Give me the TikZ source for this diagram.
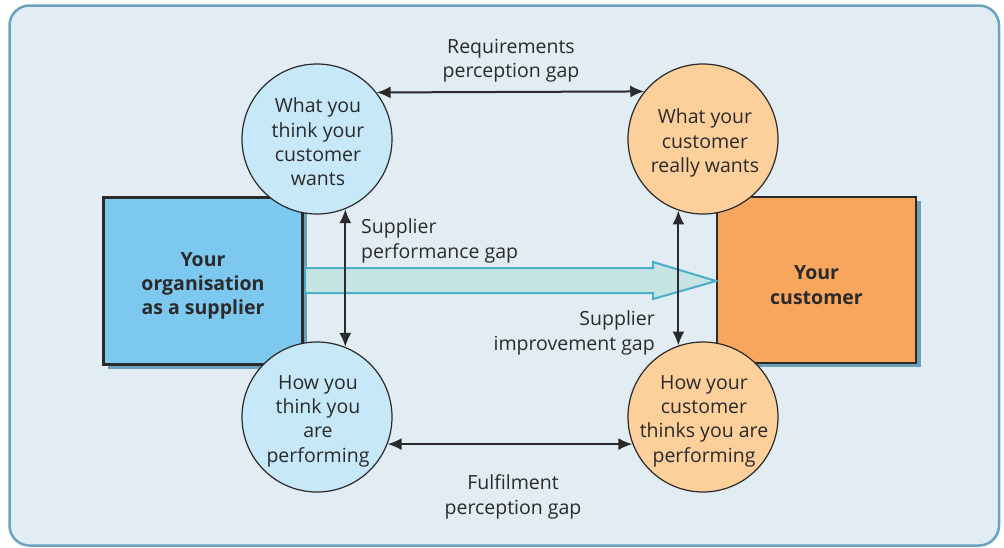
\documentclass[tikz,border=0pt]{standalone}
\usepackage{fontspec}
\setmainfont{Open Sans}
\usetikzlibrary{arrows.meta}
\definecolor{bgfill}{HTML}{E1ECF3}
\definecolor{bgline}{HTML}{6BA3BE}
\definecolor{boxblue}{HTML}{7DC8EF}
\definecolor{boxorange}{HTML}{F8A65E}
\definecolor{shadowc}{HTML}{6A9FB8}
\definecolor{circblue}{HTML}{C7E8F8}
\definecolor{circorange}{HTML}{FDCF9B}
\definecolor{arrfill}{HTML}{C6E4E4}
\definecolor{arrline}{HTML}{4BAEC8}
\definecolor{txt}{HTML}{2A2A2A}
\begin{document}
\begin{tikzpicture}[x=1pt,y=-1pt,
  txtstyle/.style={text=txt,font=\fontsize{19.5}{24.3}\selectfont,align=center,inner sep=0pt},
  boldtxt/.style={txtstyle,font=\fontsize{19.5}{24.3}\selectfont\bfseries},
  boxstyle/.style={draw=txt,line width=2.5pt,minimum width=199pt,inner sep=0pt},
  circstyle/.style={circle,draw=txt,line width=1.2pt,minimum size=150pt,inner sep=0pt},
  gap/.style={line width=2pt,draw=txt,{Latex[length=14pt,width=12pt]}-{Latex[length=14pt,width=12pt]}}
]
\useasboundingbox (0,0) rectangle (1004,547);
\draw[fill=bgfill,draw=bgline,line width=2.5pt,rounded corners=20pt] (9.5,5.5) rectangle (999,545.5);

% shadows
\fill[shadowc] (108,202) rectangle (307,369);
\fill[shadowc] (722,201) rectangle (921,367);
% boxes
\node[boxstyle,fill=boxblue,minimum height=167pt] (sup) at (203,281) {};
\node[boldtxt] (suptxt) at (203,286) {Your\\organisation\\as a supplier};
\node[boxstyle,fill=boxorange,minimum height=166pt] (cust) at (816.5,280) {};
\node[boldtxt] (custtxt) at (816.5,285) {Your\\customer};

% big arrow
\draw[fill=arrfill,draw=arrline,line width=2pt,line join=miter]
  (305,268) -- (653,268) -- (653,262) -- (716,281) -- (653,299) -- (653,293) -- (305,293) -- cycle;

% circles
\node[circstyle,fill=circblue] (tl) at (317,139) {};
\node[circstyle,fill=circorange] (tr) at (703,139) {};
\node[circstyle,fill=circblue] (bl) at (317,417) {};
\node[circstyle,fill=circorange] (br) at (703,417) {};
\node[txtstyle] (tltxt) at (318,142) {What you\\think your\\customer\\wants};
\node[txtstyle] (trtxt) at (705,143) {What your\\customer\\really wants};
\node[txtstyle] (bltxt) at (318,421) {How you\\think you\\are\\performing};
\node[txtstyle] (brtxt) at (704,421) {How your\\customer\\thinks you are\\performing};

% gap arrows
\draw[gap] (tl.38.8) -- (tr.141.2);
\draw[gap] (bl.-21) -- (br.-159);
\draw[gap] (tl.-68) -- (bl.68);
\draw[gap] (tr.-109.5) -- (br.109.5);

% labels
\node[txtstyle] (req) at (511,61) {Requirements\\perception gap};
\node[txtstyle,anchor=west,align=left] (perf) at (361,241) {Supplier\\performance gap};
\node[txtstyle,anchor=east,align=right] (impr) at (655,333) {Supplier\\improvement gap};
\node[txtstyle] (ful) at (513,497) {Fulfilment\\perception gap};
\end{tikzpicture}
\end{document}
